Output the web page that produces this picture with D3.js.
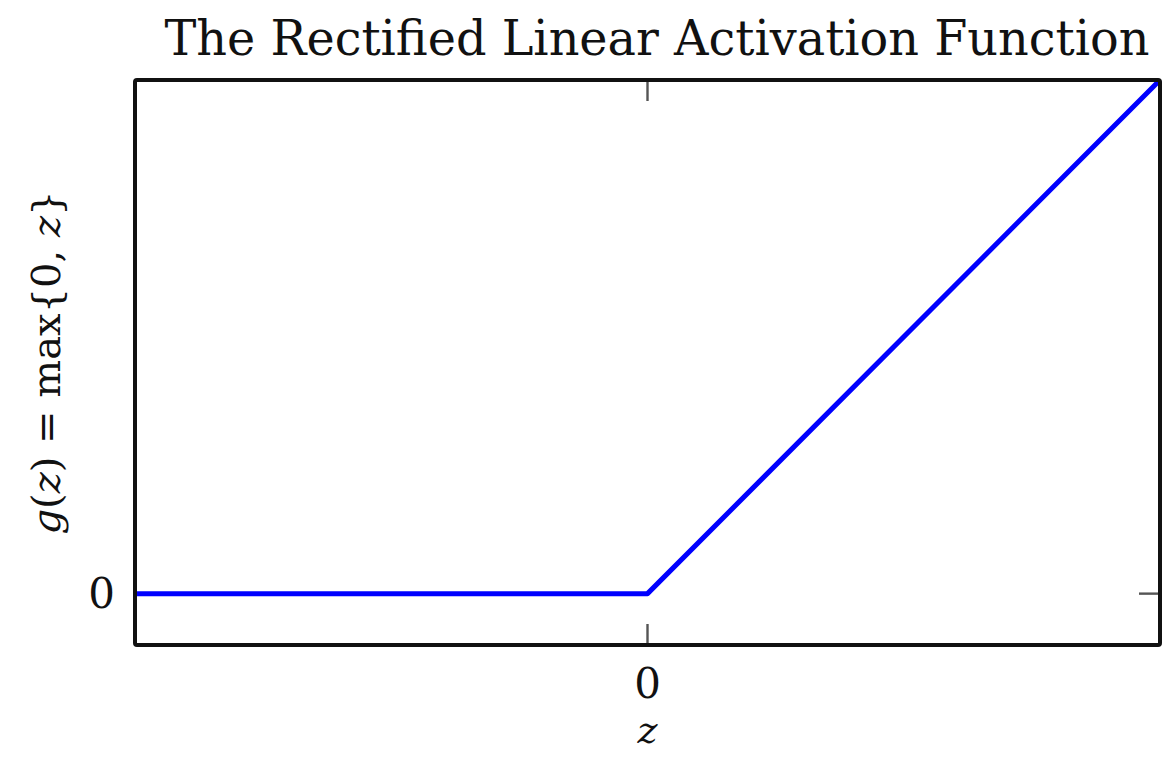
<!DOCTYPE html>
<html>
<head>
<meta charset="utf-8">
<script src="https://cdn.jsdelivr.net/npm/d3@7"></script>
<style>
  body { margin: 0; background: #fff; }
  text { font-family: "DejaVu Serif", "Liberation Serif", serif; fill: #111; }
</style>
</head>
<body>
<div id="chart"></div>
<script>
//Data: the ReLU curve, sampled at its ends and its kink
var zValues = [-2, 0, 2];
var gValues = [0, 0, 2];
var xTicks = [0];
var yTicks = [0];

var titleText = "The Rectified Linear Activation Function";
var xLabel = "z";

var width = 1176, height = 757;
var margin = {left: 135, right: 16, top: 80, bottom: 112};

var svg = d3.select("#chart").append("svg").attr("width", width).attr("height", height);

var xScale = d3.scaleLinear().domain([-2, 2]).range([margin.left, width - margin.right]);
var yScale = d3.scaleLinear().domain([-0.2, 2]).range([height - margin.bottom, margin.top]);

var x0 = xScale.range()[0], x1 = xScale.range()[1];
var y0 = yScale.range()[0], y1 = yScale.range()[1];

//Ticks on all four sides, pointing inward
var tickLen = 21;
xTicks.forEach(function(t)
{
    svg.append("line").attr("x1", xScale(t)).attr("x2", xScale(t)).attr("y1", y0).attr("y2", y0 - tickLen)
        .attr("stroke", "#555").attr("stroke-width", 2.4);
    svg.append("line").attr("x1", xScale(t)).attr("x2", xScale(t)).attr("y1", y1).attr("y2", y1 + tickLen)
        .attr("stroke", "#555").attr("stroke-width", 2.4);
    svg.append("text").attr("x", xScale(t)).attr("y", y0 + 53).attr("text-anchor", "middle")
        .attr("font-size", 42).text(t);
});
yTicks.forEach(function(t)
{
    svg.append("line").attr("x1", x0).attr("x2", x0 + tickLen).attr("y1", yScale(t)).attr("y2", yScale(t))
        .attr("stroke", "#555").attr("stroke-width", 2.4);
    svg.append("line").attr("x1", x1).attr("x2", x1 - tickLen).attr("y1", yScale(t)).attr("y2", yScale(t))
        .attr("stroke", "#555").attr("stroke-width", 2.4);
    svg.append("text").attr("x", x0 - 20).attr("y", yScale(t)).attr("dy", "0.35em").attr("text-anchor", "end")
        .attr("font-size", 42).text(t);
});

//The curve itself
var line = d3.line().x(function(d, i) { return xScale(zValues[i]); }).y(function(d) { return yScale(d); });
svg.append("path").datum(gValues).attr("d", line)
    .attr("fill", "none").attr("stroke", "#0000ff").attr("stroke-width", 5).attr("stroke-linejoin", "round");

//Frame
svg.append("rect").attr("x", x0).attr("y", y1).attr("width", x1 - x0).attr("height", y0 - y1)
    .attr("fill", "none").attr("stroke", "#111").attr("stroke-width", 4).attr("rx", 2);

//Title and axis labels
svg.append("text").attr("x", 657).attr("y", 55).attr("text-anchor", "middle")
    .attr("font-size", 48).attr("textLength", 985).attr("lengthAdjust", "spacingAndGlyphs").text(titleText);

//The reference crops this label at the bottom edge; kept just inside the frame here
svg.append("text").attr("x", xScale(0)).attr("y", 743).attr("text-anchor", "middle")
    .attr("font-size", 38).attr("font-style", "italic").text(xLabel);

var yl = svg.append("text").attr("transform", "translate(60," + ((y0 + y1) / 2) + ") rotate(-90)")
    .attr("text-anchor", "middle").attr("font-size", 40);
yl.append("tspan").attr("font-style", "italic").text("g");
yl.append("tspan").text("(");
yl.append("tspan").attr("font-style", "italic").text("z");
yl.append("tspan").text(") = max{0, ");
yl.append("tspan").attr("font-style", "italic").text("z");
yl.append("tspan").text("}");
</script>
</body>
</html>
